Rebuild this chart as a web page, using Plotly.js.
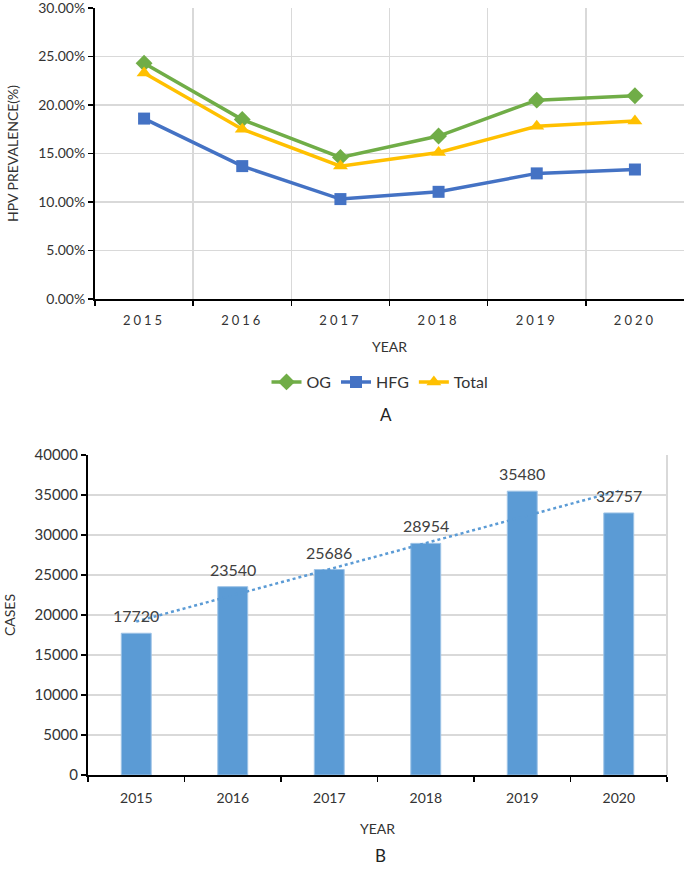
<!DOCTYPE html>
<html>
<head>
<meta charset="utf-8">
<script src="https://cdn.plot.ly/plotly-3.0.1.min.js"></script>
<style>
html,body{margin:0;padding:0;background:#fff;}
#chart{width:685px;height:869px;}
.subplot.xy .xtick text{letter-spacing:3px;}
</style>
</head>
<body>
<div id="chart"></div>
<script>
// ---- data ----
const years = ['2015', '2016', '2017', '2018', '2019', '2020'];
const og = [0.243, 0.185, 0.146, 0.168, 0.205, 0.2095];
const hfg = [0.186, 0.137, 0.103, 0.1105, 0.1295, 0.1335];
const total = [0.233, 0.175, 0.137, 0.151, 0.178, 0.1835];
const cases = [17720, 23540, 25686, 28954, 35480, 32757];
const trendYears = ['2015', '2020'];
const trendCases = [19190, 35520];

const FONT = 'Lato, "Open Sans", sans-serif';
const TXT = '#333333';

const traces = [
  {x: years, y: og, name: 'OG', type: 'scatter', mode: 'lines+markers',
   xaxis: 'x', yaxis: 'y',
   line: {color: '#70AD47', width: 3.5},
   marker: {symbol: 'diamond', size: 13, color: '#70AD47'}},
  {x: years, y: hfg, name: 'HFG', type: 'scatter', mode: 'lines+markers',
   xaxis: 'x', yaxis: 'y',
   line: {color: '#4472C4', width: 3.5},
   marker: {symbol: 'square', size: 12, color: '#4472C4'}},
  {x: years, y: total, name: 'Total', type: 'scatter', mode: 'lines+markers',
   xaxis: 'x', yaxis: 'y',
   line: {color: '#FFC000', width: 3.5},
   marker: {symbol: 'triangle-up', size: 13, color: '#FFC000'}},
  {x: years, y: cases, name: 'Cases', type: 'bar', xaxis: 'x2', yaxis: 'y2',
   width: 0.31, showlegend: false,
   marker: {color: '#5B9BD5', line: {color: '#9DC3E6', width: 1}}},
  {x: trendYears, y: trendCases, name: 'Trend', type: 'scatter', mode: 'lines',
   xaxis: 'x2', yaxis: 'y2', showlegend: false,
   line: {color: '#5B9BD5', width: 2.5, dash: 'dot'}}
];

const annotations = cases.map((v, i) => ({
  x: i, y: v, xref: 'x2', yref: 'y2', text: String(v),
  showarrow: false, yanchor: 'bottom', yshift: 6,
  font: {family: FONT, size: 16, color: '#404040'}
}));
annotations.push({x: 386 / 685, y: 1 - 414 / 869, xref: 'paper', yref: 'paper',
  xanchor: 'center', yanchor: 'middle',
  text: 'A', showarrow: false, font: {family: FONT, size: 17, color: '#222'}});
annotations.push({x: 380 / 685, y: 1 - 855 / 869, xref: 'paper', yref: 'paper',
  xanchor: 'center', yanchor: 'middle',
  text: 'B', showarrow: false, font: {family: FONT, size: 17, color: '#222'}});

const layout = {
  width: 685, height: 869,
  margin: {l: 0, r: 0, t: 0, b: 0},
  paper_bgcolor: '#fff', plot_bgcolor: '#fff',
  font: {family: FONT, color: TXT},
  showlegend: true,
  legend: {orientation: 'h', x: 380 / 685, xanchor: 'center',
           y: 1 - 382 / 869, yanchor: 'middle',
           font: {family: FONT, size: 16, color: TXT}, traceorder: 'normal'},
  xaxis: {domain: [95 / 685, 684 / 685], anchor: 'y', type: 'category',
          range: [-0.5, 5.5], tickson: 'boundaries',
          showgrid: true, gridcolor: '#D9D9D9', gridwidth: 1.5,
          showline: true, linecolor: '#000', linewidth: 2,
          ticks: 'outside', ticklen: 5, tickwidth: 1.5, tickcolor: '#000',
          ticklabelstandoff: 8,
          tickfont: {family: FONT, size: 13, color: TXT},
          title: {text: 'YEAR', standoff: 16, font: {family: FONT, size: 14, color: TXT}}},
  yaxis: {domain: [1 - 299 / 869, 1 - 8 / 869], anchor: 'x',
          range: [0, 0.30001], dtick: 0.05, tickformat: '.2%',
          ticklabeloverflow: 'allow',
          showgrid: true, gridcolor: '#D9D9D9', gridwidth: 1.5, zeroline: false,
          showline: true, linecolor: '#000', linewidth: 2,
          ticks: 'outside', ticklen: 5, tickwidth: 1.5, tickcolor: '#000',
          tickfont: {family: FONT, size: 14, color: TXT},
          title: {text: 'HPV PREVALENCE(%)', standoff: 16, font: {family: FONT, size: 14, color: TXT}}},
  xaxis2: {domain: [88 / 685, 667 / 685], anchor: 'y2', type: 'category',
           range: [-0.5, 5.5], tickson: 'boundaries', showgrid: false,
           showline: true, linecolor: '#000', linewidth: 2,
           ticks: 'outside', ticklen: 5, tickwidth: 1.5, tickcolor: '#000',
           ticklabelstandoff: 9,
           tickfont: {family: FONT, size: 14, color: TXT},
           title: {text: 'YEAR', standoff: 19, font: {family: FONT, size: 14, color: TXT}}},
  yaxis2: {domain: [1 - 775 / 869, 1 - 455 / 869], anchor: 'x2',
           range: [0, 40001], dtick: 5000, tickformat: 'd',
           ticklabeloverflow: 'allow',
           showgrid: true, gridcolor: '#D9D9D9', gridwidth: 1.5, zeroline: false,
           showline: true, linecolor: '#000', linewidth: 2,
           ticks: 'outside', ticklen: 5, tickwidth: 1.5, tickcolor: '#000',
           tickfont: {family: FONT, size: 15, color: TXT},
           title: {text: 'CASES', standoff: 16, font: {family: FONT, size: 14, color: TXT}}},
  shapes: [{type: 'line', xref: 'x2 domain', yref: 'y2 domain',
            x0: 1, x1: 1, y0: 0, y1: 1, line: {color: '#D9D9D9', width: 2}}],
  annotations: annotations
};

Plotly.newPlot('chart', traces, layout, {displayModeBar: false, staticPlot: true});
</script>
</body>
</html>
